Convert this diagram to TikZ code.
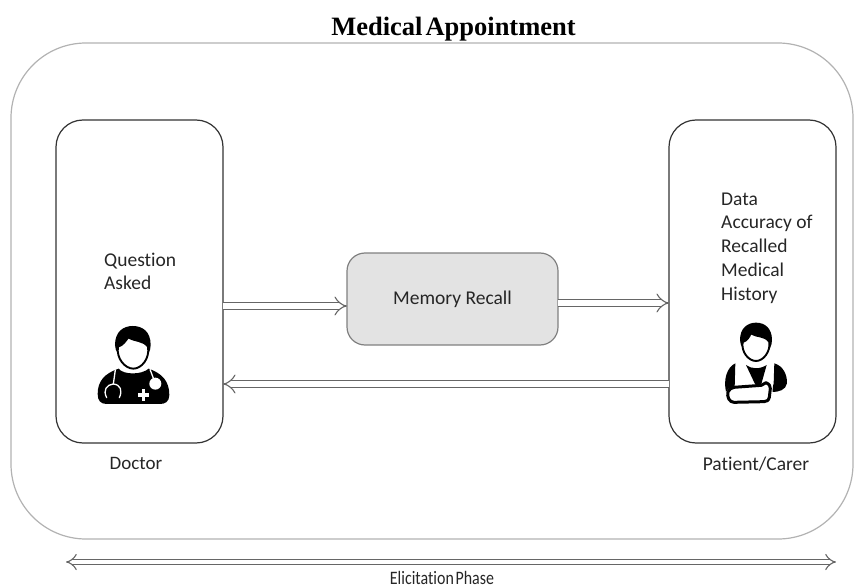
\documentclass[tikz,border=0pt]{standalone}
\usepackage{fontspec}
\setmainfont[Ligatures=NoCommon]{Carlito}
\newfontfamily\titlefont{Liberation Serif}
\usetikzlibrary{arrows.meta}
\tikzset{
  box/.style={draw=#1,line width=1.2pt,inner sep=0pt,outer sep=0pt},
  lbl/.style={font=\fontsize{19.5}{23.7}\selectfont,text=black!85,inner sep=0pt,align=left},
  hollow/.style={double=white,double distance=5.6pt,line width=1.1pt,draw=black!60,-{Implies[length=7pt,width=13pt]}},
  hollowtwo/.style={double=white,double distance=4.6pt,line width=1.1pt,draw=black!60,{Implies[length=7pt,width=11pt]}-{Implies[length=7pt,width=11pt]}},
  iconA/.style={shift={(60,230)},x=0.3333pt,y=-0.3333pt},
  iconB/.style={shift={(660,280)},x=0.3333pt,y=-0.3333pt},
}
\begin{document}
\begin{tikzpicture}[x=1pt,y=-1pt]
\useasboundingbox (0,0) rectangle (864,588);
% outer frame
\node[box=black!30,rounded corners=75pt,minimum width=842pt,minimum height=496pt] (outer) at (432,291) {};
% boxes
\node[box=black!80,rounded corners=27pt,minimum width=167pt,minimum height=323pt] (doc) at (139.5,281.5) {};
\node[box=black!80,rounded corners=27pt,minimum width=167pt,minimum height=323pt] (pat) at (752.5,281.5) {};
\node[box=black!50,fill=black!11,rounded corners=18pt,minimum width=211pt,minimum height=92pt,font=\fontsize{19.5}{21}\selectfont,text=black!85] (mem) at (452.5,299) {Memory Recall};
% title and labels
\node[font=\titlefont\bfseries\fontsize{26.5}{30}\selectfont,inner sep=0pt] (title) at (453.5,29) {Medical\hspace{3pt}Appointment};
\node[lbl,anchor=west] (q) at (104,271.5) {Question\\Asked};
\node[lbl,anchor=west] (data) at (721,248) {Data\\Accuracy of\\Recalled\\Medical\\History};
\node[lbl,font=\fontsize{19}{22}\selectfont] (dl) at (136,463) {Doctor};
\node[lbl,font=\fontsize{19.5}{22}\selectfont] (pl) at (756,464) {Patient/Carer};
\node[lbl,font=\fontsize{19}{22}\selectfont,xscale=0.84] (el) at (442,578) {Elicitation\hspace{2pt}Phase};
% connectors
\coordinate (y1) at (0,306);
\coordinate (y2) at (0,303);
\coordinate (y3) at (0,384);
\coordinate (sl) at (66,562);
\coordinate (sr) at (836,562);
\draw[hollow] (doc.east |- y1) -- (mem.west |- y1);
\draw[hollow] (mem.east |- y2) -- (pat.west |- y2);
\draw[hollow] (pat.west |- y3) -- (doc.east |- y3);
\draw[hollowtwo] (sl) -- (sr);
% doctor icon
\begin{scope}[iconA]
\fill[black] (113,492) .. controls (113,452) and (135,430) .. (176,416)
  .. controls (190,435) and (245,435) .. (266,416)
  .. controls (305,430) and (328,452) .. (328,495)
  .. controls (328,515) and (315,522) .. (300,522) -- (140,522)
  .. controls (122,522) and (113,512) .. (113,492) -- cycle;
\draw[white,line width=1.3pt,line cap=round] (166,420) -- (160,462);
\draw[white,line width=1.3pt,line cap=round] (140,503) .. controls (128,480) and (140,464) .. (160,462) .. controls (182,464) and (188,482) .. (178,503);
\draw[white,line width=1.3pt] (270,418) -- (284,455);
\fill[white] (286,461) circle (18);
\fill[white] (233,489) rectangle (267,500);
\fill[white] (245,477) rectangle (256,512);
\fill[black] (165,345) .. controls (165,305) and (190,288) .. (218,288) .. controls (248,288) and (272,305) .. (272,345) .. controls (272,355) and (270,362) .. (265,372) -- (175,372) .. controls (168,362) and (165,355) .. (165,345) -- cycle;
\draw[black,line width=1.9pt,fill=white] (174,350) .. controls (190,346) and (198,330) .. (205,322) .. controls (225,335) and (250,330) .. (264,350) .. controls (270,385) and (245,416) .. (220,416) .. controls (195,416) and (168,385) .. (174,350) -- cycle;
\end{scope}
% patient icon
\begin{scope}[iconB]
\fill[black] (240,180) .. controls (240,145) and (262,128) .. (288,128) .. controls (315,128) and (336,145) .. (336,180) .. controls (336,190) and (334,195) .. (330,205) -- (248,205) .. controls (243,195) and (240,190) .. (240,180) -- cycle;
\draw[black,line width=1.9pt,fill=white] (248,186) .. controls (262,182) and (268,170) .. (272,160) .. controls (290,172) and (315,165) .. (328,186) .. controls (332,215) and (310,243) .. (288,243) .. controls (265,243) and (243,215) .. (248,186) -- cycle;
\fill[black] (226,250) -- (224,322) -- (206,326) -- (198,335) .. controls (190,300) and (200,262) .. (226,250) -- cycle;
\fill[black] (343,250) .. controls (370,258) and (382,285) .. (381,310) .. controls (378,330) and (355,336) .. (338,336) .. controls (340,325) and (336,318) .. (341,310) -- cycle;
\fill[black] (258,255) .. controls (275,268) and (300,268) .. (320,255) -- (304,312) -- (285,312) -- cycle;
\draw[black,line width=3pt,fill=white,line join=round] (222,322) -- (304,316) -- (318,308) .. controls (328,312) and (332,320) .. (331,326) -- (328,352) .. controls (326,362) and (318,365) .. (312,365) -- (222,367) .. controls (208,367) and (200,350) .. (204,336) .. controls (206,328) and (214,324) .. (222,322) -- cycle;
\end{scope}
\end{tikzpicture}
\end{document}
